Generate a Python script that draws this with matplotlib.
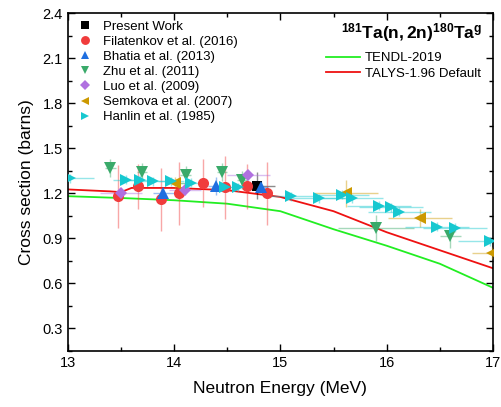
import numpy as np
import matplotlib
matplotlib.use('Agg')
import matplotlib.pyplot as plt
from matplotlib.ticker import MultipleLocator

plt.rcParams['font.family'] = ['Liberation Sans', 'DejaVu Sans']
plt.rcParams['mathtext.fontset'] = 'custom'
plt.rcParams['mathtext.rm'] = 'Liberation Sans'
plt.rcParams['mathtext.bf'] = 'Liberation Sans:bold'
plt.rcParams['mathtext.it'] = 'Liberation Sans:italic'

# Present Work
pw_e = [14.78]
pw_s = [1.25]
pw_de = [0.17]
pw_ds = [0.09]

# Filatenkov et al. (2016)
fil_e = [13.47, 13.66, 13.88, 14.05, 14.27, 14.48, 14.69, 14.87]
fil_s = [1.18, 1.245, 1.16, 1.20, 1.265, 1.24, 1.245, 1.20]
fil_ds = [0.21, 0.15, 0.21, 0.21, 0.16, 0.21, 0.15, 0.21]

# Bhatia et al. (2013)
bha_e = [13.90, 14.39, 14.82]
bha_s = [1.20, 1.25, 1.24]
bha_de = [0.10, 0.07, 0.06]
bha_ds = [0.04, 0.06, 0.04]

# Zhu et al. (2011)
zhu_e = [13.40, 13.70, 14.11, 14.45, 14.64, 15.90, 16.60]
zhu_s = [1.365, 1.34, 1.32, 1.34, 1.29, 0.97, 0.915]
zhu_de = [0.05, 0.05, 0.05, 0.05, 0.05, 0.36, 0.10]
zhu_ds = [0.06, 0.06, 0.06, 0.06, 0.06, 0.087, 0.08]

# Luo et al. (2009)
luo_e = [13.50, 14.10, 14.70]
luo_s = [1.20, 1.22, 1.32]
luo_de = [0.20, 0.15, 0.20]
luo_ds = [0.03, 0.03, 0.03]

# Semkova et al. (2007)
sem_e = [14.01, 15.62, 16.31, 16.99]
sem_s = [1.27, 1.20, 1.035, 0.80]
sem_de = [0.10, 0.30, 0.30, 0.19]
sem_ds = [0.04, 0.09, 0.06, 0.04]

# Hanlin et al. (1985)
han_e = [13.02, 13.55, 13.68, 13.80, 13.97, 14.16, 14.48, 14.60, 15.10,
         15.36, 15.58, 15.67, 15.93, 16.04, 16.12, 16.47, 16.64, 16.97]
han_s = [1.30, 1.29, 1.29, 1.28, 1.28, 1.27, 1.24, 1.24, 1.18,
         1.165, 1.19, 1.165, 1.115, 1.105, 1.075, 0.975, 0.97, 0.88]
han_de = [0.23, 0.12, 0.12, 0.12, 0.12, 0.12, 0.12, 0.12, 0.25,
          0.25, 0.25, 0.30, 0.30, 0.30, 0.30, 0.30, 0.30, 0.30]
han_ds = [0.03] * 18

# Evaluations
tendl_e = [13.0, 13.5, 14.0, 14.5, 15.0, 15.5, 16.0, 16.5, 17.0]
tendl_s = [1.18, 1.168, 1.153, 1.13, 1.08, 0.96, 0.85, 0.73, 0.57]
talys_e = [13.0, 13.4, 13.5, 13.6, 14.0, 14.5, 15.0, 15.5, 16.0, 16.5, 17.0]
talys_s = [1.225, 1.212, 1.207, 1.235, 1.235, 1.22, 1.175, 1.08, 0.94, 0.82, 0.70]

fig = plt.figure(figsize=(5.02, 4.07), dpi=100)
ax = fig.add_axes([0.135, 0.138, 0.847, 0.830])

h_talys, = ax.plot(talys_e, talys_s, color='#ee1111', lw=1.3, zorder=2)
h_tendl, = ax.plot(tendl_e, tendl_s, color='#22ee22', lw=1.3, zorder=2)


def series(e, s, de, ds, marker, color, label, ms=8):
    eb = ax.errorbar(e, s, xerr=de, yerr=ds, fmt=marker, color=color,
                     ecolor=color, label=label, markeredgewidth=0, zorder=3,
                     linestyle='none', capsize=3.5, elinewidth=1.0,
                     capthick=1.0, markersize=ms)
    for part in eb[1] + eb[2]:
        part.set_alpha(0.45)
    return eb

series(pw_e, pw_s, pw_de, pw_ds, 's', 'black', 'Present Work', ms=7)
series(fil_e, fil_s, None, fil_ds, 'o', '#f03c3c', 'Filatenkov et al. (2016)')
series(bha_e, bha_s, bha_de, bha_ds, '^', '#1f6fe0', 'Bhatia et al. (2013)')
series(zhu_e, zhu_s, zhu_de, zhu_ds, 'v', '#3aaa6a', 'Zhu et al. (2011)')
series(luo_e, luo_s, luo_de, luo_ds, 'D', '#b070e0', 'Luo et al. (2009)', ms=6.5)
series(sem_e, sem_s, sem_de, sem_ds, '<', '#cc9900', 'Semkova et al. (2007)')
series(han_e, han_s, han_de, han_ds, '>', '#17c8d0', 'Hanlin et al. (1985)')

handles, labels = ax.get_legend_handles_labels()
pts = [(h, l) for h, l in zip(handles, labels) if l not in ('TENDL-2019', 'TALYS-1.96 Default')]
leg1 = ax.legend([h[0] for h, l in pts], [l for h, l in pts], loc='upper left',
                 frameon=False, fontsize=9.5, handletextpad=0.6, labelspacing=0.22,
                 borderaxespad=0.15, handlelength=1.5, markerscale=0.8)
ax.add_artist(leg1)
ax.legend([h_tendl, h_talys], ['TENDL-2019', 'TALYS-1.96 Default'],
          loc='upper right', bbox_to_anchor=(1.0, 0.92), frameon=False,
          fontsize=9.5, handlelength=2.6, labelspacing=0.25, handletextpad=0.4)

ax.text(0.975, 0.975, r'$\mathbf{^{181}Ta(n,2n)^{180}Ta^{g}}$', transform=ax.transAxes,
        ha='right', va='top', fontsize=12.5)

ax.set_xlim(13, 17)
ax.set_ylim(0.15, 2.4)
ax.xaxis.set_major_locator(MultipleLocator(1))
ax.xaxis.set_minor_locator(MultipleLocator(0.5))
ax.yaxis.set_major_locator(MultipleLocator(0.3))
ax.yaxis.set_minor_locator(MultipleLocator(0.15))
ax.tick_params(which='both', direction='in', top=True, right=True, labelsize=10.5)
ax.tick_params(which='major', length=5, width=1)
ax.tick_params(which='minor', length=3, width=1)
for sp in ax.spines.values():
    sp.set_linewidth(1.2)

ax.set_xlabel('Neutron Energy (MeV)', fontsize=12.5, labelpad=8)
ax.set_ylabel('Cross section (barns)', fontsize=12.5, labelpad=6)

fig.savefig('out.png', dpi=100)
